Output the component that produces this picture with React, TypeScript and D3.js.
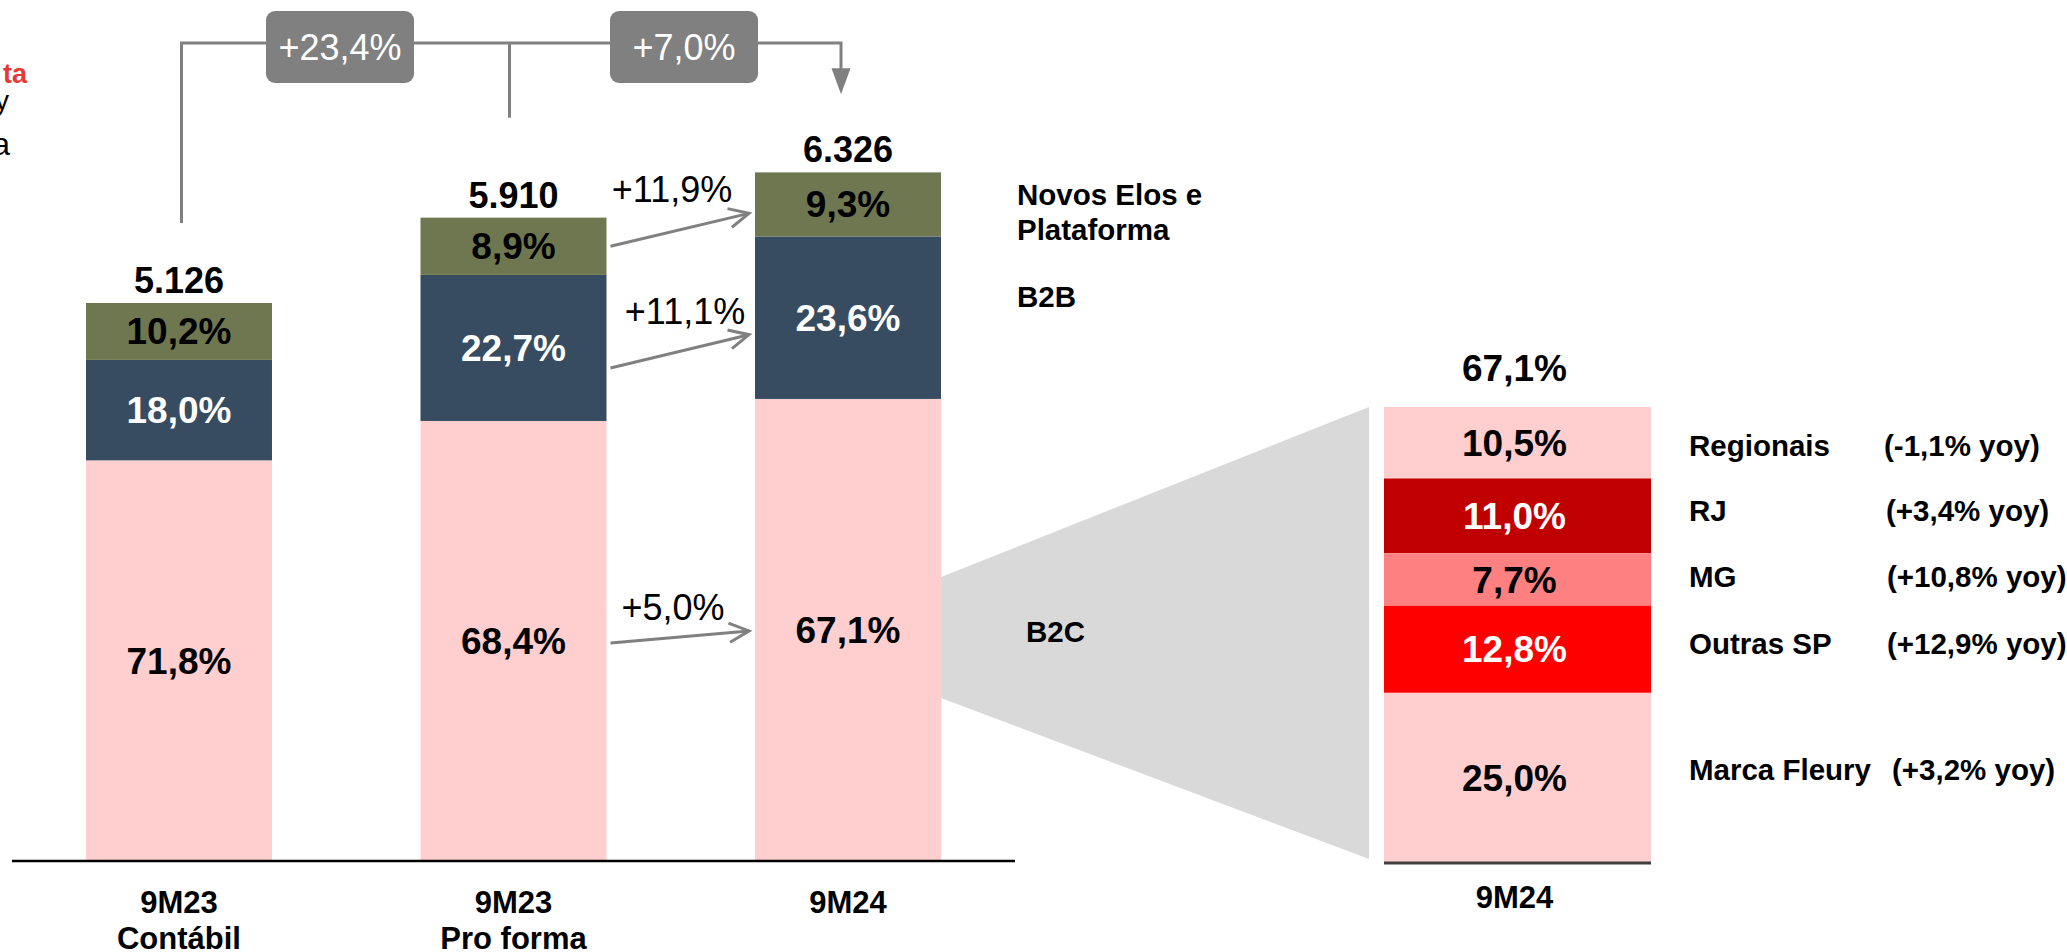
import React from "react";
import * as d3 from "d3";

// ---------- data ----------
const categories = ["9M23 Contábil", "9M23 Pro forma", "9M24"];
const categoryLines = [["9M23", "Contábil"], ["9M23", "Pro forma"], ["9M24"]];
const totals = [5126, 5910, 6326];
const totalLabels = ["5.126", "5.910", "6.326"];
const shareB2C = [71.8, 68.4, 67.1];
const shareB2B = [18.0, 22.7, 23.6];
const shareNovos = [10.2, 8.9, 9.3];
const shareLabelsB2C = ["71,8%", "68,4%", "67,1%"];
const shareLabelsB2B = ["18,0%", "22,7%", "23,6%"];
const shareLabelsNovos = ["10,2%", "8,9%", "9,3%"];
const segmentGrowth = ["+5,0%", "+11,1%", "+11,9%"]; // b2c, b2b, novos
const totalGrowth = ["+23,4%", "+7,0%"];
const seriesNames = ["B2C", "B2B", "Novos Elos e Plataforma"];

const b2cTotalLabel = "67,1%";
const breakdownNames = ["Regionais", "RJ", "MG", "Outras SP", "Marca Fleury"];
const breakdownValues = [10.5, 11.0, 7.7, 12.8, 25.0];
const breakdownLabels = ["10,5%", "11,0%", "7,7%", "12,8%", "25,0%"];
const breakdownYoy = ["(-1,1% yoy)", "(+3,4% yoy)", "(+10,8% yoy)", "(+12,9% yoy)", "(+3,2% yoy)"];
const breakdownCategory = "9M24";

// ---------- styles ----------
const FONT = "'Liberation Sans', Arial, sans-serif";
const C_PINK = "#FFCFCF";
const C_DARK = "#374C60";
const C_OLIVE = "#6F7751";
const C_GREY = "#808080";
const breakdownColors = [C_PINK, "#C00000", "#FF8080", "#FF0000", C_PINK];
const breakdownTextColors = ["#000", "#fff", "#000", "#fff", "#000"];
const legendDy = [13, 5, 7, 5, 2];
const yoyX = [1884, 1886, 1887, 1887, 1892];
const growthTextX = [673, 685, 672];

export default function App() {
  const W = 2067, H = 952;
  const x = d3.scaleBand<string>().domain(categories).range([86, 941]).paddingInner(0.444).paddingOuter(0);
  const y = d3.scaleLinear().domain([0, 7000]).range([861, 99]);
  const bw = x.bandwidth();

  const rows = categories.map((c, i) => ({
    cat: c,
    b2c: (totals[i] * shareB2C[i]) / 100,
    b2b: (totals[i] * shareB2B[i]) / 100,
    novos: (totals[i] * shareNovos[i]) / 100,
  }));
  const keys = ["b2c", "b2b", "novos"];
  const stack = d3.stack<any>().keys(keys)(rows);
  const colors = [C_PINK, C_DARK, C_OLIVE];
  const textColors = ["#000", "#fff", "#000"];
  const labelSets = [shareLabelsB2C, shareLabelsB2B, shareLabelsNovos];

  const mid = (k: number, i: number) => (y(stack[k][i][0]) + y(stack[k][i][1])) / 2;
  const cx = (i: number) => (x(categories[i]) as number) + bw / 2;

  // right panel
  const xr = d3.scaleBand<string>().domain([breakdownCategory]).range([1384, 1651]).padding(0);
  const sumB = d3.sum(breakdownValues);
  const yr = d3.scaleLinear().domain([0, sumB]).range([863, 407]);
  const order = [4, 3, 2, 1, 0]; // bottom to top
  const bStack: { i: number; y0: number; y1: number }[] = [];
  let acc = 0;
  order.forEach((i) => {
    bStack[i] = { i, y0: acc, y1: acc + breakdownValues[i] };
    acc += breakdownValues[i];
  });
  const rx = xr(breakdownCategory) as number;
  const rw = xr.bandwidth();

  // trapezoid
  const b3Right = (x(categories[2]) as number) + bw;
  const m3 = mid(0, 2);
  const trap = [
    [b3Right, m3 - 53],
    [rx - 15, yr(sumB)],
    [rx - 15, yr(0) - 4],
    [b3Right, m3 + 68],
  ];

  // growth arrows between bar 2 and 3
  const x2r = (x(categories[1]) as number) + bw;
  const x3l = x(categories[2]) as number;
  const arrowOff = [
    [2, 1],
    [20, 17],
    [0, 9],
  ];

  // top bracket
  const topY = 43;
  const lx = cx(0) + 2.5, mx = cx(1) - 4, rxx = cx(2) - 7;
  const lBottom = y(totals[0]) - 80;
  const mBottom = y(totals[1]) - 100;
  const rTip = y(totals[2]) - 78;
  const boxes = [
    { cx: 340, label: totalGrowth[0] },
    { cx: 684, label: totalGrowth[1] },
  ];

  const openArrow = (x1: number, y1: number, x2: number, y2: number, key: string) => {
    const a = Math.atan2(y2 - y1, x2 - x1);
    const L = 22, s = 0.45;
    const p1 = [x2 - L * Math.cos(a - s), y2 - L * Math.sin(a - s)];
    const p2 = [x2 - L * Math.cos(a + s), y2 - L * Math.sin(a + s)];
    return (
      <g key={key} stroke={C_GREY} strokeWidth={3} fill="none">
        <line x1={x1} y1={y1} x2={x2} y2={y2} />
        <polyline points={`${p1[0]},${p1[1]} ${x2},${y2} ${p2[0]},${p2[1]}`} />
      </g>
    );
  };

  return (
    <svg
      width={W}
      height={H}
      style={{ position: "absolute", left: 0, top: 0, background: "#fff" }}
      fontFamily={FONT}
    >
      {/* cut-off left texts */}
      <text x={27} y={83} textAnchor="end" fontSize={27} fontWeight="bold" fill="#E53935">ta</text>
      <text x={9} y={110} textAnchor="end" fontSize={28} fill="#000">y</text>
      <text x={10} y={155} textAnchor="end" fontSize={32} fill="#000">a</text>

      {/* trapezoid */}
      <polygon points={trap.map((p) => p.join(",")).join(" ")} fill="#D9D9D9" />

      {/* left stacked bars */}
      {stack.map((s, k) =>
        s.map((d, i) => (
          <rect
            key={`${k}-${i}`}
            x={x(categories[i])}
            y={y(d[1])}
            width={bw}
            height={y(d[0]) - y(d[1])}
            fill={colors[k]}
          />
        ))
      )}
      {stack.map((s, k) =>
        s.map((d, i) => (
          <text
            key={`t${k}-${i}`}
            x={cx(i)}
            y={mid(k, i) + 13}
            textAnchor="middle"
            fontSize={37}
            fontWeight="bold"
            fill={textColors[k]}
          >
            {labelSets[k][i]}
          </text>
        ))
      )}
      {totals.map((t, i) => (
        <text key={`tot${i}`} x={cx(i)} y={y(t) - 10} textAnchor="middle" fontSize={36} fontWeight="bold">
          {totalLabels[i]}
        </text>
      ))}

      {/* axis */}
      <line x1={12} x2={1015} y1={y(0)} y2={y(0)} stroke="#000" strokeWidth={2.5} />
      {categoryLines.map((lines, i) =>
        lines.map((ln, j) => (
          <text key={`c${i}-${j}`} x={cx(i)} y={913 + j * 36} textAnchor="middle" fontSize={31} fontWeight="bold">
            {ln}
          </text>
        ))
      )}

      {/* growth arrows */}
      {[0, 1, 2].map((k) => {
        const y1 = mid(k, 1) + arrowOff[k][0];
        const y2 = mid(k, 2) + arrowOff[k][1];
        const x1 = x2r + 4;
        const x2 = x3l - 6;
        return (
          <g key={`g${k}`}>
            {openArrow(x1, y1, x2, y2, `a${k}`)}
            <text x={growthTextX[k]} y={y2 - 11} textAnchor="middle" fontSize={36} fill="#000">
              {segmentGrowth[k]}
            </text>
          </g>
        );
      })}

      {/* top bracket */}
      <g stroke={C_GREY} strokeWidth={3} fill="none">
        <polyline points={`${lx},${lBottom} ${lx},${topY} ${rxx},${topY} ${rxx},${rTip - 24}`} />
        <line x1={mx} x2={mx} y1={topY} y2={mBottom} />
      </g>
      <polygon points={`${rxx - 9.5},${rTip - 26} ${rxx + 9.5},${rTip - 26} ${rxx},${rTip}`} fill={C_GREY} />
      {boxes.map((b, i) => (
        <g key={`b${i}`}>
          <rect x={b.cx - 74} y={11} width={148} height={72} rx={9} fill={C_GREY} />
          <text x={b.cx} y={60} textAnchor="middle" fontSize={36} fill="#fff">{b.label}</text>
        </g>
      ))}

      {/* series legend */}
      <text x={1017} y={205} fontSize={29.5} fontWeight="bold">Novos Elos e</text>
      <text x={1017} y={240} fontSize={29.5} fontWeight="bold">Plataforma</text>
      <text x={1017} y={307} fontSize={29.5} fontWeight="bold">{seriesNames[1]}</text>
      <text x={1026} y={642} fontSize={29.5} fontWeight="bold">{seriesNames[0]}</text>

      {/* right breakdown */}
      {bStack.map((d) => (
        <rect key={`r${d.i}`} x={rx} y={yr(d.y1)} width={rw} height={yr(d.y0) - yr(d.y1)} fill={breakdownColors[d.i]} />
      ))}
      {bStack.map((d) => (
        <text
          key={`rl${d.i}`}
          x={rx + rw / 2 - 3}
          y={(yr(d.y0) + yr(d.y1)) / 2 + 13}
          textAnchor="middle"
          fontSize={37}
          fontWeight="bold"
          fill={breakdownTextColors[d.i]}
        >
          {breakdownLabels[d.i]}
        </text>
      ))}
      {bStack.map((d) => {
        const my = (yr(d.y0) + yr(d.y1)) / 2 + legendDy[d.i];
        return (
          <g key={`lg${d.i}`}>
            <text x={1689} y={my} fontSize={29.5} fontWeight="bold">{breakdownNames[d.i]}</text>
            <text x={yoyX[d.i]} y={my} fontSize={29.5} fontWeight="bold">{breakdownYoy[d.i]}</text>
          </g>
        );
      })}
      <text x={rx + rw / 2 - 3} y={381} textAnchor="middle" fontSize={37} fontWeight="bold">{b2cTotalLabel}</text>
      <line x1={rx} x2={rx + rw} y1={yr(0)} y2={yr(0)} stroke="#404040" strokeWidth={3} />
      <text x={rx + rw / 2 - 3} y={908} textAnchor="middle" fontSize={31} fontWeight="bold">{breakdownCategory}</text>
    </svg>
  );
}
